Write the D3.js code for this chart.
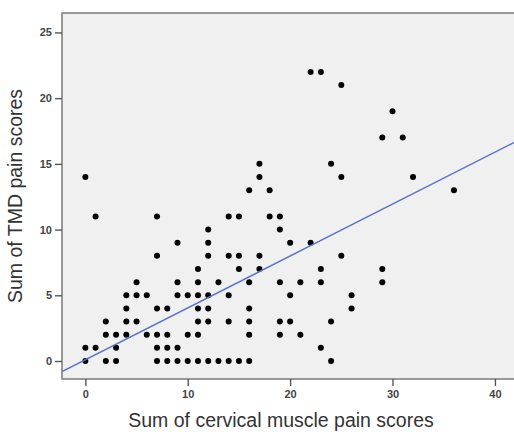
<!DOCTYPE html>
<html>
<head>
<meta charset="utf-8">
<script src="https://cdn.jsdelivr.net/npm/d3@7"></script>
<style>
	body { margin: 0; background: #fff; }
	svg { display: block; font-family: "Liberation Sans", Arial, sans-serif; }
</style>
</head>
<body>
<svg></svg>
<script>
// cervical muscle pain (x) vs TMD pain (y), one entry per visible dot
let cervicalScores = [
	0, 0, 0, 1, 1, 2, 2, 2, 3, 3, 3, 4, 4, 4, 4, 5, 5, 5, 6, 6,
	7, 7, 7, 7, 7, 7, 8, 8, 8, 8, 9, 9, 9, 9, 9, 10, 10, 10,
	11, 11, 11, 11, 11, 11, 11, 12, 12, 12, 12, 12, 12, 12, 13, 13,
	14, 14, 14, 14, 14, 15, 15, 15, 15, 16, 16, 16, 16, 16, 16,
	17, 17, 17, 17, 18, 18, 19, 19, 19, 19, 19, 20, 20, 20, 21, 21,
	22, 22, 23, 23, 23, 23, 24, 24, 24, 25, 25, 25, 26, 26,
	29, 29, 29, 30, 31, 32, 36
];
let tmdScores = [
	0, 1, 14, 1, 11, 0, 2, 3, 0, 1, 2, 2, 3, 4, 5, 3, 5, 6, 2, 5,
	0, 1, 2, 4, 8, 11, 0, 1, 2, 4, 0, 1, 5, 6, 9, 0, 2, 5,
	0, 2, 3, 4, 5, 6, 7, 0, 3, 4, 5, 8, 9, 10, 0, 6,
	0, 3, 5, 8, 11, 0, 7, 8, 11, 0, 2, 3, 4, 6, 13,
	7, 8, 14, 15, 11, 13, 2, 3, 6, 10, 11, 3, 5, 9, 2, 6,
	9, 22, 1, 6, 7, 22, 0, 3, 15, 8, 14, 21, 4, 5,
	6, 7, 17, 19, 17, 14, 13
];
let xTicks = [0, 10, 20, 30, 40];
let yTicks = [0, 5, 10, 15, 20, 25];
let fitLine = { intercept: 0.09, slope: 0.395 };

let width = 514;
let height = 432;
let plot = { left: 62, top: 13, right: 520, bottom: 379 };

let data = cervicalScores.map((c, i) => ({ x: c, y: tmdScores[i] }));

let xScale = d3.scaleLinear().domain([-2.28, 42.45]).range([plot.left, plot.right]);
let yScale = d3.scaleLinear().domain([-1.37, 26.48]).range([plot.bottom, plot.top]);

let svg = d3.select('svg')
	.attr('width', width)
	.attr('height', height);

svg.append('rect')
	.attr('x', plot.left)
	.attr('y', plot.top)
	.attr('width', plot.right - plot.left)
	.attr('height', plot.bottom - plot.top)
	.attr('fill', '#f0f0f0')
	.attr('stroke', '#7a7a7a')
	.attr('stroke-width', 1.5);

let xAxis = svg.append('g')
	.attr('transform', 'translate(0,' + plot.bottom + ')')
	.call(d3.axisBottom(xScale).tickValues(xTicks).tickSize(7).tickPadding(4));

let yAxis = svg.append('g')
	.attr('transform', 'translate(' + plot.left + ',0)')
	.call(d3.axisLeft(yScale).tickValues(yTicks).tickSize(7).tickPadding(3));

[xAxis, yAxis].forEach(function(ax) {
	ax.select('.domain').remove();
	ax.selectAll('line').attr('stroke', '#555').attr('stroke-width', 1.4);
	ax.selectAll('text')
		.attr('fill', '#444')
		.style('font-size', '11px')
		.style('font-weight', 'bold')
		.style('font-family', '"Liberation Sans", Arial, sans-serif');
});

svg.append('clipPath')
	.attr('id', 'plotClip')
	.append('rect')
	.attr('x', plot.left)
	.attr('y', plot.top)
	.attr('width', plot.right - plot.left)
	.attr('height', plot.bottom - plot.top);

svg.append('g')
	.selectAll('circle')
	.data(data)
	.enter()
	.append('circle')
	.attr('cx', function(d) { return xScale(d.x); })
	.attr('cy', function(d) { return yScale(d.y); })
	.attr('r', 3)
	.attr('fill', '#000');

let xs = xScale.domain();
svg.append('line')
	.attr('clip-path', 'url(#plotClip)')
	.attr('x1', xScale(xs[0]))
	.attr('y1', yScale(fitLine.intercept + fitLine.slope * xs[0]))
	.attr('x2', xScale(xs[1]))
	.attr('y2', yScale(fitLine.intercept + fitLine.slope * xs[1]))
	.attr('stroke', '#5b73c4')
	.attr('stroke-width', 1.5);

svg.append('text')
	.attr('x', 281)
	.attr('y', 427)
	.attr('text-anchor', 'middle')
	.attr('fill', '#333')
	.style('font-size', '19.5px')
	.text('Sum of cervical muscle pain scores');

svg.append('text')
	.attr('transform', 'translate(22,196) rotate(-90)')
	.attr('text-anchor', 'middle')
	.attr('fill', '#333')
	.style('font-size', '19.5px')
	.text('Sum of TMD pain scores');
</script>
</body>
</html>
